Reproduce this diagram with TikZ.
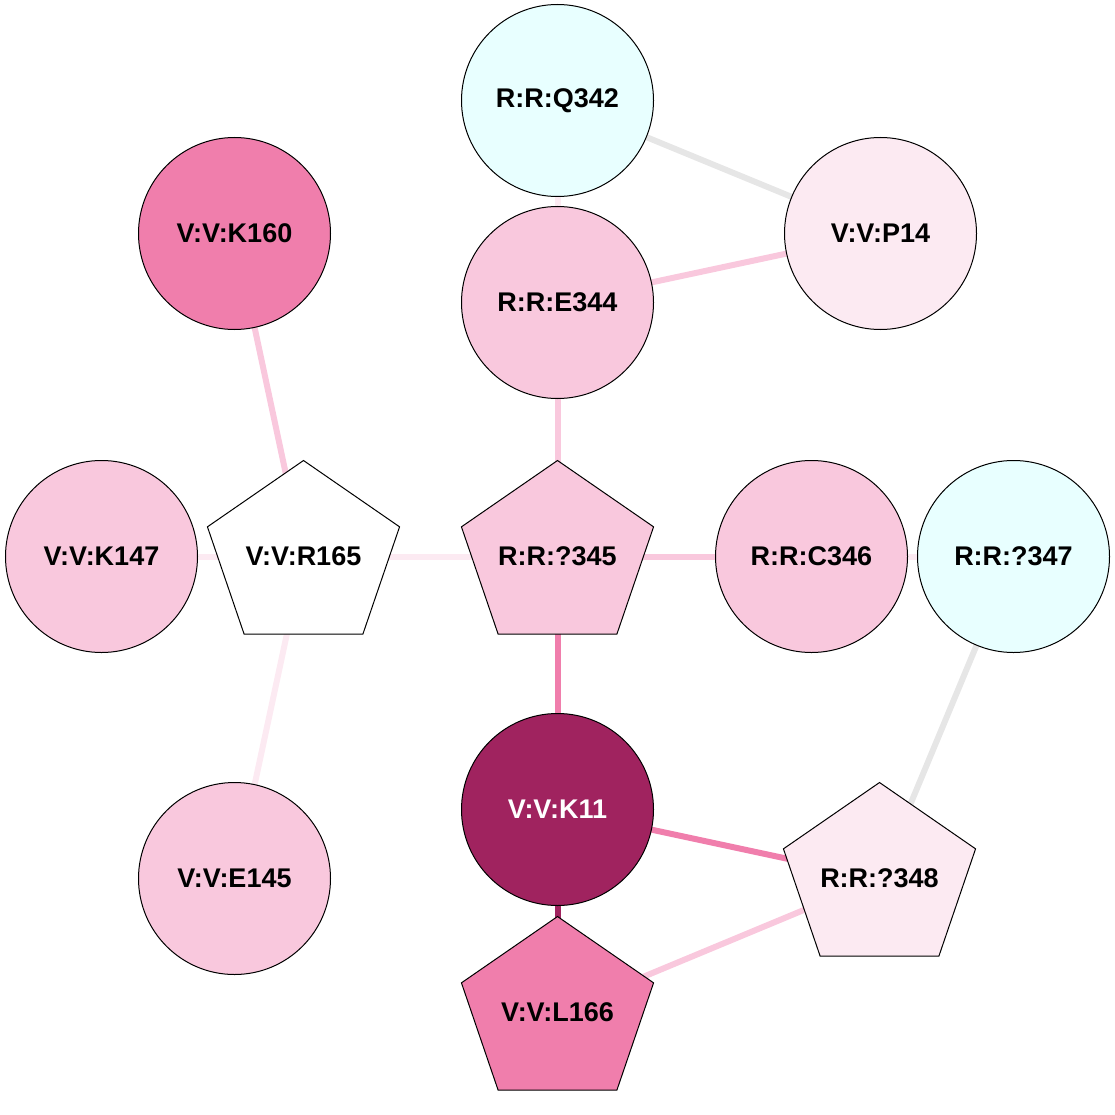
\documentclass[tikz,border=0pt]{standalone}
\usepackage{fontspec}
\setmainfont{Liberation Sans}
\usetikzlibrary{shapes.geometric}
\pgfdeclarelayer{edges}
\pgfdeclarelayer{shapes}
\pgfsetlayers{edges,shapes,main}
\definecolor{cyanfill}{HTML}{E8FFFF}
\definecolor{palepink}{HTML}{FCEAF2}
\definecolor{lightpink}{HTML}{F9C8DD}
\definecolor{midpink}{HTML}{F07EAC}
\definecolor{darkpink}{HTML}{A0235F}
\definecolor{edgegray}{HTML}{E6E6E6}
\tikzset{
  base/.style={inner sep=0pt, outer sep=0pt,
    font=\fontsize{27}{31}\selectfont\bfseries, text=black},
  circ/.style={base, draw=black, line width=1pt, circle, minimum size=192pt},
  pent/.style={base, circle, minimum size=192pt},
  pentline/.style={draw=black, line width=1pt, line join=miter},
  link/.style={line width=6pt},
}
\newcommand\pentagonat[2]{%
  \begin{pgfonlayer}{shapes}
  \draw[pentline, fill=#2, shift={(#1.center)}]
    (90:101 and 96) -- (162:101 and 96) -- (234:101 and 96) --
    (306:101 and 96) -- (18:101 and 96) -- cycle;
  \end{pgfonlayer}}
\begin{document}
\begin{tikzpicture}[x=1pt,y=1pt]
\useasboundingbox (0,0) rectangle (1115,-1115);
\node[circ, fill=cyanfill] (Q342) at (557.5,-100.5) {R:R:Q342};
\node[circ, fill=palepink] (P14) at (880.5,-233.5) {V:V:P14};
\node[circ, fill=midpink] (K160) at (234.5,-233.5) {V:V:K160};
\node[circ, fill=lightpink] (E344) at (557.5,-302.5) {R:R:E344};
\node[circ, fill=lightpink] (K147) at (101.5,-556.5) {V:V:K147};
\node[pent] (R165) at (303.5,-556.5) {V:V:R165};
\node[pent] (Q345) at (557.5,-556.5) {R:R:?345};
\node[circ, fill=lightpink] (C346) at (811.5,-556.5) {R:R:C346};
\node[circ, fill=cyanfill] (Q347) at (1013.5,-556.5) {R:R:?347};
\node[circ, fill=darkpink, text=white] (K11) at (557.5,-809.5) {V:V:K11};
\node[circ, fill=lightpink] (E145) at (234.5,-878.5) {V:V:E145};
\node[pent] (Q348) at (879.5,-878.5) {R:R:?348};
\node[pent] (L166) at (557.5,-1012.5) {V:V:L166};
\pentagonat{R165}{white}
\pentagonat{Q345}{lightpink}
\pentagonat{Q348}{palepink}
\pentagonat{L166}{midpink}
\begin{pgfonlayer}{edges}
\draw[link, edgegray] (Q342.center) -- (P14.center);
\draw[link, palepink] (Q342.center) -- (E344.center);
\draw[link, lightpink] (E344.center) -- (P14.center);
\draw[link, lightpink] (K160.center) -- (R165.center);
\draw[link, lightpink] (E344.center) -- (Q345.center);
\draw[link, palepink] (K147.center) -- (R165.center);
\draw[link, palepink] (R165.center) -- (Q345.center);
\draw[link, palepink] (R165.center) -- (E145.center);
\draw[link, lightpink] (Q345.center) -- (C346.center);
\draw[link, palepink] (C346.center) -- (Q347.center);
\draw[link, midpink] (Q345.center) -- (K11.center);
\draw[link, edgegray] (Q347.center) -- (Q348.center);
\draw[link, midpink] (K11.center) -- (Q348.center);
\draw[link, darkpink] (K11.center) -- (L166.center);
\draw[link, lightpink] (L166.center) -- (Q348.center);
\end{pgfonlayer}
\end{tikzpicture}
\end{document}
